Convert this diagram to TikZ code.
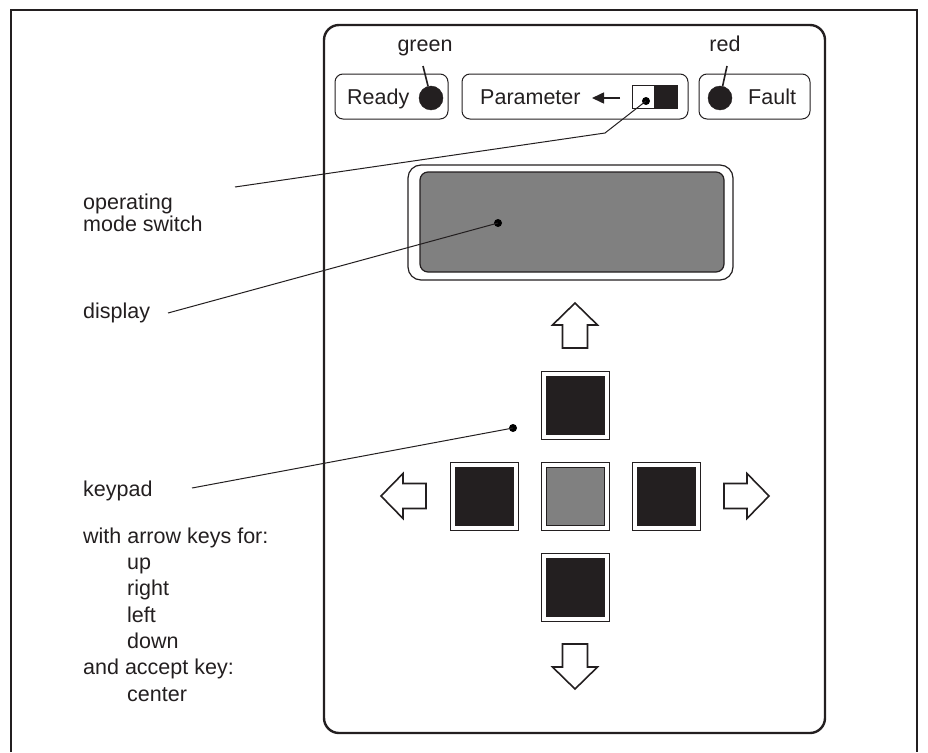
\documentclass[tikz,border=0pt]{standalone}
\usepackage{fontspec}
\setmainfont{Liberation Sans}
\usetikzlibrary{arrows.meta}
\definecolor{ink}{HTML}{231F20}
\definecolor{lcd}{HTML}{808080}
\tikzset{
  x=1pt, y=-1pt,
  lbl/.style={font=\fontsize{21.5}{26}\selectfont, text=ink, inner sep=0pt},
  frameline/.style={draw=ink, line width=2.4pt},
  devbox/.style={draw=ink, line width=2.4pt, rounded corners=15pt},
  indbox/.style={draw=ink, line width=1pt, rounded corners=8pt},
  led/.style={circle, fill=ink, draw=ink, minimum size=24pt, inner sep=0pt},
  dotmark/.style={circle, fill=black, minimum size=8pt, inner sep=0pt},
  leader/.style={draw=ink, line width=1pt},
  keyout/.style={draw=ink, line width=1pt, fill=white, minimum size=68pt, inner sep=0pt},
  keyin/.style={draw=ink, line width=1pt, fill=ink, minimum size=58pt, inner sep=0pt},
  keyctr/.style={draw=ink, line width=1pt, fill=lcd, minimum size=58pt, inner sep=0pt},
  arrowline/.style={draw=ink, line width=1.6pt, fill=white, line join=miter},
  keyarrow/.pic={\path[arrowline] (0,0) -- (22.5,22) -- (12.5,22) -- (12.5,45) -- (-12.5,45) -- (-12.5,22) -- (-22.5,22) -- cycle;}
}
\begin{document}
\begin{tikzpicture}
\useasboundingbox (0,0) rectangle (928,752);
% outer frame (open at bottom)
\draw[frameline] (11,752) -- (11,10) -- (917,10) -- (917,752);
% device
\draw[devbox] (324,25) rectangle (825,733);
% indicator boxes
\draw[indbox] (335,74) rectangle (448,119);
\draw[indbox] (462,74) rectangle (688,119);
\draw[indbox] (699,74) rectangle (810,119);
\node[lbl, anchor=base west] (ready) at (347,104) {Ready};
\node[led] (readyled) at (431,98) {};
\node[lbl, anchor=base] (green) at (425,52) {green};
\coordinate (greenend) at (423,66);
\draw[leader, line width=1.6pt] (greenend) -- (readyled);
\node[lbl, anchor=base west] (param) at (480,104) {Parameter};
\coordinate (parrowstart) at (620,98);
\coordinate (parrowtip) at (592,98);
\draw[draw=ink, line width=1.6pt, -{Triangle[length=12pt,width=11pt]}] (parrowstart) -- (parrowtip);
\draw[draw=ink, line width=1pt] (632,85) rectangle (677,108);
\fill[ink] (654,85) rectangle (677,108);
\node[dotmark] (swdot) at (646,101) {};
\node[led] (faultled) at (720,98) {};
\node[lbl, anchor=base west] (fault) at (748,104) {Fault};
\node[lbl, anchor=base] (red) at (725,52) {red};
\coordinate (redend) at (727,66);
\draw[leader, line width=1.6pt] (redend) -- (faultled);
% display
\draw[draw=ink, line width=1.2pt, rounded corners=13pt] (408,165) rectangle (733,280);
\draw[draw=ink, line width=1.2pt, fill=lcd, rounded corners=8pt] (420,172) rectangle (724,272);
\node[dotmark] (dispdot) at (498,223) {};
% keypad
\node[keyout] (kup) at (575,405) {};
\node[keyin] at (kup) {};
\node[keyout] (kleft) at (484,496) {};
\node[keyin] at (kleft) {};
\node[keyout] (kctr) at (575,496) {};
\node[keyctr] at (kctr) {};
\node[keyout] (kright) at (666,496) {};
\node[keyin] at (kright) {};
\node[keyout] (kdown) at (575,587) {};
\node[keyin] at (kdown) {};
\pic at (575,303) {keyarrow};
\pic[rotate=90] at (381,496) {keyarrow};
\pic[rotate=-90] at (769,496) {keyarrow};
\pic[rotate=180] at (575,689) {keyarrow};
\node[dotmark] (keydot) at (513,428) {};
% left labels
\node[lbl, anchor=base west] (opm1) at (83,209) {operating};
\node[lbl, anchor=base west] (opm2) at (83,231) {mode switch};
\node[lbl, anchor=base west] (disp) at (83,318) {display};
\node[lbl, anchor=base west] (keyp) at (83,496) {keypad};
\node[lbl, anchor=base west] (t1) at (83,543) {with arrow keys for:};
\node[lbl, anchor=base west] (t2) at (127,569) {up};
\node[lbl, anchor=base west] (t3) at (127,595) {right};
\node[lbl, anchor=base west] (t4) at (127,622) {left};
\node[lbl, anchor=base west] (t5) at (127,648) {down};
\node[lbl, anchor=base west] (t6) at (83,674) {and accept key:};
\node[lbl, anchor=base west] (t7) at (127,701) {center};
% leaders
\coordinate (opmstart) at (235,187);
\coordinate (opmbend) at (605,133);
\draw[leader] (opmstart) -- (opmbend) -- (swdot.center);
\coordinate (dispstart) at (168,313);
\draw[leader] (dispstart) -- (dispdot.center);
\coordinate (keystart) at (192,488);
\draw[leader] (keystart) -- (keydot.center);
\end{tikzpicture}
\end{document}
